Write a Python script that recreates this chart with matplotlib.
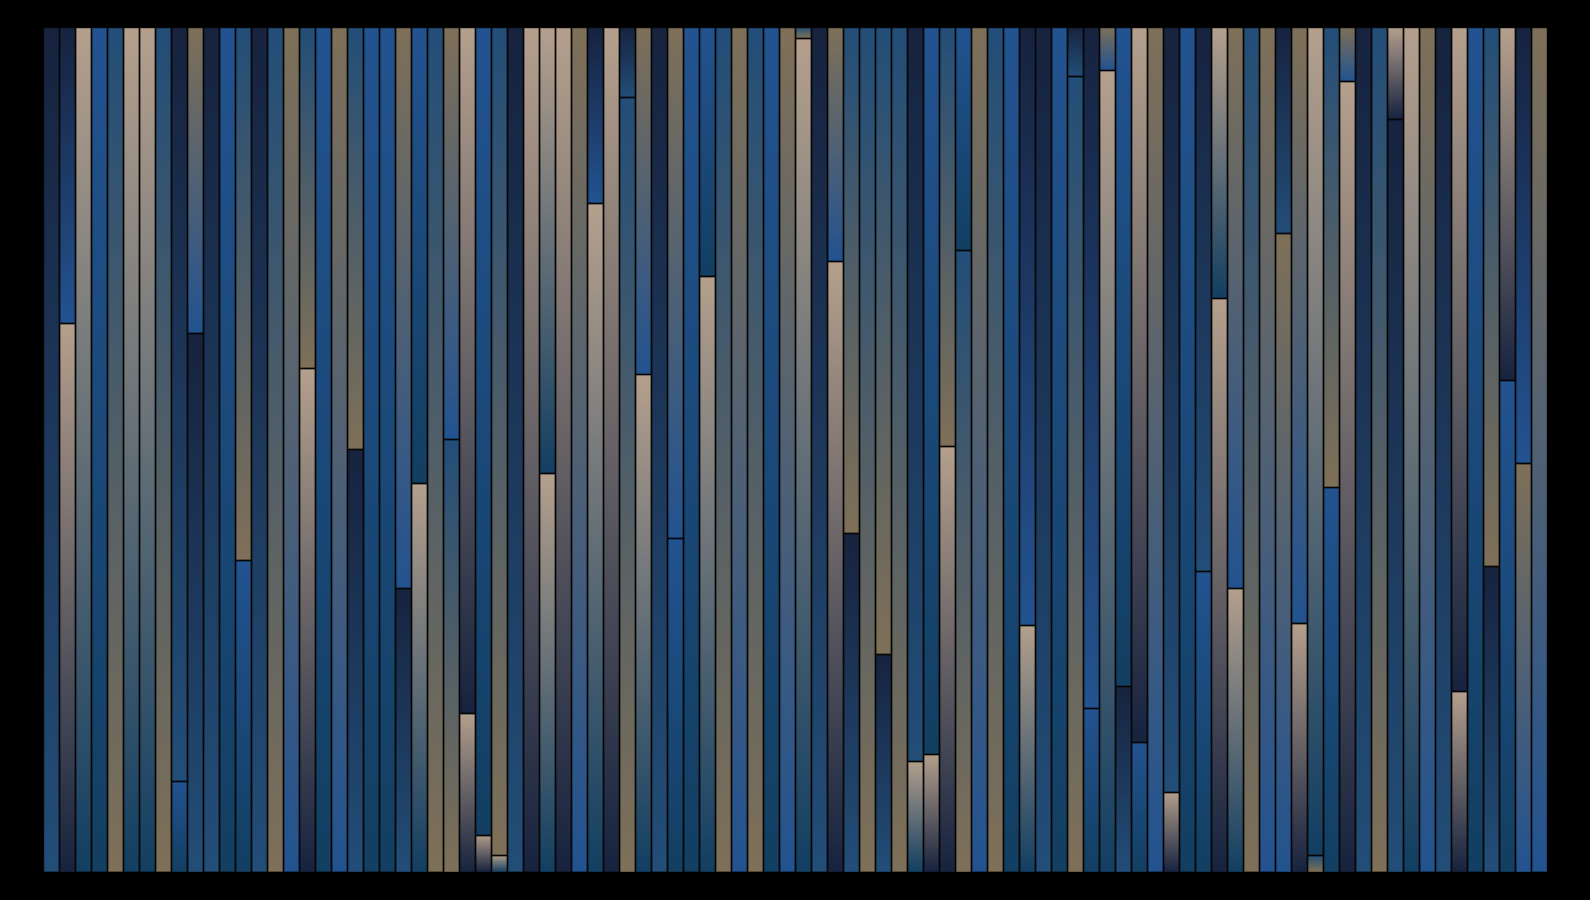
import numpy as np
import matplotlib
matplotlib.use("Agg")
import matplotlib.pyplot as plt
from matplotlib.colors import to_rgb

# share of the lower block in each bar, 0 means the bar is one block
lower_share = [
    0, 65.0, 0, 0, 0, 0, 0, 0, 10.8, 63.8,
    0, 0, 37.0, 0, 0, 0, 59.7, 0, 0, 50.1,
    0, 0, 33.7, 46.1, 0, 51.3, 18.8, 4.4, 2.0, 0,
    0, 47.3, 0, 0, 79.2, 0, 91.8, 59.0, 0, 39.6,
    0, 70.6, 0, 0, 0, 0, 0, 98.7, 0, 72.4,
    40.1, 0, 25.8, 0, 13.2, 14.0, 50.4, 73.6, 0, 0,
    0, 29.3, 0, 0, 94.2, 19.4, 94.9, 22.0, 15.4, 0,
    9.5, 0, 35.7, 68.0, 33.7, 0, 0, 75.6, 29.5, 2.0,
    45.6, 93.6, 0, 0, 89.1, 0, 0, 0, 21.5, 0,
    36.3, 58.3, 48.4, 0,
]
upper_share = [100 - v for v in lower_share]
bar_ids = list(range(len(lower_share)))

# gradient end colours per block, as palette codes
upper_top = ("N N A B M A A M N K  N B M N M K M B K M  B B K B M K A B M N  "
             "A A A K N A N K N K  B B M K M B K M N K  M M M M N B M B K M  "
             "B N N B N N K B A K  N B N A K M K N K A  M K N M A A K N A B  "
             "M A N K").split()
upper_end = ("M B T T K T T K M B  M T K M K B K T B K  T T B T K B N T K M  "
             "N T N B B N M B M B  T T K B K T B K M B  K K K K M T K T B K  "
             "T B M T M B B T N B  M T M T B K B M B T  K B M K N T B M N T  "
             "K N B B").split()
lower_top = ("- A - - - - - - B N  - - B - - - A - - N  - - N A - M A A A -  "
             "- A - - A - M A - B  - A - - - - - A - A  N - N - A A A M - -  "
             "- A - - M B A N B -  A - B A A - - K A M  B A - - N - - - A -  "
             "N B K -").split()
lower_end = ("- N - - - - - - T M  - - T - - - N - - M  - - M T - K N N T -  "
             "- T - - T - K T - T  - T - - - - - T - N  M - M - T N N K - -  "
             "- T - - K T T M T -  N - T N T - - B N K  T N - - M - - - N -  "
             "M T B -").split()

palette = {"N": "#17233F", "B": "#235390", "M": "#234E78", "T": "#133F62",
           "K": "#7F7058", "A": "#B5A08D"}


def paint_gradient(ax, patch, top_code, end_code):
    # vertical gradient clipped to the bar patch
    c0 = np.array(to_rgb(palette[top_code]))
    c1 = np.array(to_rgb(palette[end_code]))
    t = np.linspace(0, 1, 256)[:, None, None]
    grad = c0[None, None, :] * (1 - t) + c1[None, None, :] * t
    x, y = patch.get_x(), patch.get_y()
    im = ax.imshow(grad, extent=(x, x + patch.get_width(), y, y + patch.get_height()),
                   origin="upper", aspect="auto", interpolation="bilinear", zorder=1)
    im.set_clip_path(patch)


fig = plt.figure(figsize=(15.9, 9), dpi=100, facecolor="black")
ax = fig.add_axes([42.8 / 1590, 1 - 872.3 / 900, (1546.6 - 42.8) / 1590, (872.3 - 27.3) / 900])
ax.set_facecolor("black")

lower_bars = ax.bar(bar_ids, lower_share, width=1.0, facecolor="none",
                    edgecolor="#050505", linewidth=1.0, zorder=2)
upper_bars = ax.bar(bar_ids, upper_share, width=1.0, bottom=lower_share, facecolor="none",
                    edgecolor="#050505", linewidth=1.0, zorder=2)

for i in bar_ids:
    paint_gradient(ax, upper_bars[i], upper_top[i], upper_end[i])
    if lower_share[i] > 0:
        paint_gradient(ax, lower_bars[i], lower_top[i], lower_end[i])

ax.set_xlim(-0.5, len(bar_ids) - 0.5)
ax.set_ylim(0, 100)
ax.axis("off")

fig.savefig("out.png", dpi=100, facecolor="black")
